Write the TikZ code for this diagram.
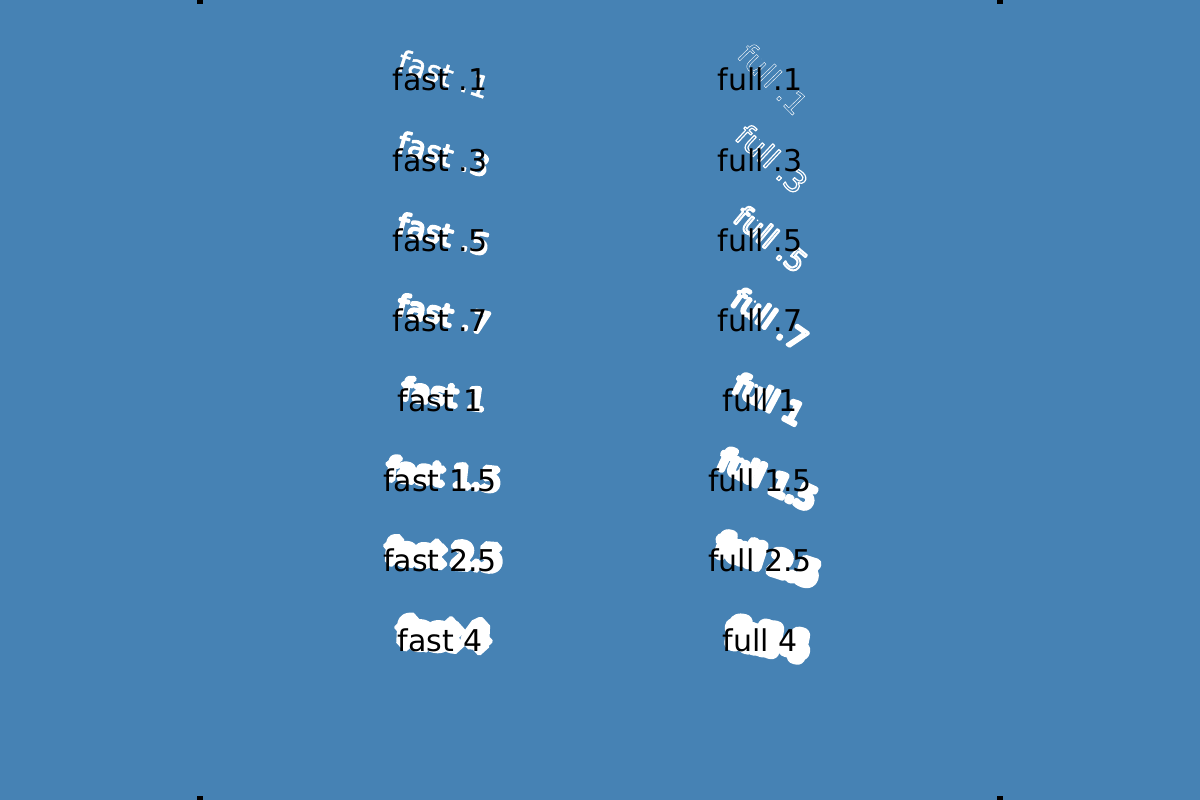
\documentclass[tikz,border=0pt]{standalone}
\usepackage{fontspec}
\setmainfont{DejaVu Sans}
\definecolor{bgblue}{HTML}{4682B4}
\newcommand{\strk}[4]{\special{pdf:literal direct #4 j 1 J #1 Tr #2 w}#3\special{pdf:literal direct 0 Tr 0 j 0 J 0.4 w}}
\tikzset{
  lbl/.style={font=\fontsize{30}{36}\selectfont, text=black, inner sep=0pt, anchor=base},
  wfast/.style={font=\fontsize{30}{36}\selectfont, text=white, inner sep=0pt, anchor=center},
  wfull/.style={font=\fontsize{30}{36}\selectfont, text=white, inner sep=0pt, anchor=center},
  tickmark/.style={fill=black, draw=none}
}
\begin{document}
\begin{tikzpicture}[x=1pt,y=-1pt]
\fill[bgblue] (0,0) rectangle (1200,800);
\useasboundingbox (0,0) rectangle (1200,800);
\fill[tickmark] (197,0) rectangle (203,4);
\fill[tickmark] (997,0) rectangle (1003,4);
\fill[tickmark] (197,796) rectangle (203,800);
\fill[tickmark] (997,796) rectangle (1003,800);
% white stroked texts, fast column (fill + stroke)
\foreach \v/\w/\r/\a [count=\i] in {.1/0.4/80/-18, .3/1.2/160/-16, .5/2/240/-14, .7/2.8/320/-12, 1/4/400/-8, 1.5/6/480/-6, 2.5/10/560/-4, 4/16/640/-3}{
  \node[wfast, rotate=\a] (wa\i) at (444,\r-6) {\strk{2}{\w}{fast \v}{2}};
}
% white stroked texts, full column (stroke only)
\foreach \v/\w/\r/\a/\dx [count=\i] in {.1/0.4/80/-46/5, .3/1.2/160/-43/4, .5/2/240/-40/3, .7/2.8/320/-35/2, 1/4/400/-28/1, 1.5/6/480/-25/0, 2.5/10/560/-18/0, 4/16/640/-12/0}{
  \node[wfull, rotate=\a] (wb\i) at (768+\dx,\r-1) {\strk{1}{\w}{full \v}{1}};
}
% black labels
\foreach \v/\r [count=\i] in {.1/80, .3/160, .5/240, .7/320, 1/400, 1.5/480, 2.5/560, 4/640}{
  \node[lbl] (la\i) at (440,\r+11) {fast \v};
  \node[lbl] (lb\i) at (760,\r+11) {full \v};
}
\end{tikzpicture}
\end{document}
